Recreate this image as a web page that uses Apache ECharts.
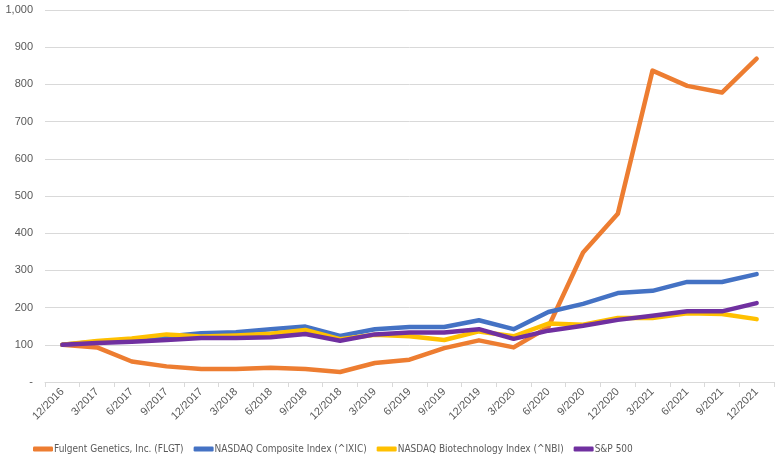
<!DOCTYPE html>
<html>
<head>
<meta charset="utf-8">
<script src="https://cdn.jsdelivr.net/npm/echarts@6/dist/echarts.min.js"></script>
<style>html,body{margin:0;padding:0;background:#fff;}#c{width:783px;height:464px;}</style>
</head>
<body>
<div id="c"></div>
<script>
var categories = ['12/2016','3/2017','6/2017','9/2017','12/2017','3/2018','6/2018','9/2018','12/2018','3/2019','6/2019','9/2019','12/2019','3/2020','6/2020','9/2020','12/2020','3/2021','6/2021','9/2021','12/2021'];
var flgt = [100, 93, 55, 42, 35, 35, 38, 35, 27, 51, 60, 91, 112, 93, 148, 348, 452, 837, 796, 778, 869];
var ixic = [100, 108, 115, 122, 131, 134, 142, 149, 124, 142, 148, 148, 166, 142, 188, 210, 239, 245, 269, 269, 290];
var nbi  = [100, 110, 117, 128, 122, 125, 130, 140, 115, 127, 123, 113, 136, 123, 157, 154, 172, 172, 185, 183, 169];
var spx  = [100, 105, 108, 113, 118, 118, 120, 129, 111, 128, 133, 133, 142, 116, 138, 151, 167, 178, 190, 190, 212];
var seriesNames = ['Fulgent Genetics, Inc. (FLGT)', 'NASDAQ Composite Index (^IXIC)', 'NASDAQ Biotechnology Index (^NBI)', 'S&P 500'];
var colors = ['#ED7D31', '#4472C4', '#FFC000', '#7030A0'];

var font = '"DejaVu Sans Condensed", "Liberation Sans Narrow", "Liberation Sans", sans-serif';
var axisFont = '"Liberation Sans", sans-serif';
var chart = echarts.init(document.getElementById('c'));
var datasets = [flgt, ixic, nbi, spx];
chart.setOption({
  animation: false,
  color: colors,
  textStyle: { fontFamily: axisFont },
  grid: { left: 45, right: 9, top: 10, bottom: 82 },
  legend: {
    bottom: 5,
    left: 28,
    itemWidth: 20,
    itemHeight: 5,
    itemGap: 10,
    icon: 'roundRect',
    textStyle: { color: '#595959', fontSize: 10, fontFamily: font, padding: [0, 0, 0, -4] },
    data: seriesNames
  },
  xAxis: {
    type: 'category',
    data: categories,
    boundaryGap: true,
    axisLine: { lineStyle: { color: '#D9D9D9' } },
    axisTick: { show: true, alignWithLabel: false, length: 5, lineStyle: { color: '#D9D9D9' } },
    axisLabel: { rotate: 45, color: '#595959', fontSize: 11, interval: 0, margin: 8, fontFamily: axisFont }
  },
  yAxis: {
    type: 'value',
    min: 0, max: 1000, interval: 100,
    axisLine: { show: false },
    axisTick: { show: false },
    splitLine: { lineStyle: { color: '#D9D9D9' } },
    axisLabel: {
      color: '#595959', fontSize: 11, margin: 12, fontFamily: axisFont,
      formatter: function (v) { return v === 0 ? '-' : v.toLocaleString('en-US'); }
    }
  },
  series: datasets.map(function (d, i) {
    return {
      name: seriesNames[i], type: 'line', data: d,
      showSymbol: false, symbol: 'none',
      lineStyle: { width: 4.5, color: colors[i], cap: 'round', join: 'round' },
      itemStyle: { color: colors[i] }
    };
  })
});
</script>
</body>
</html>
